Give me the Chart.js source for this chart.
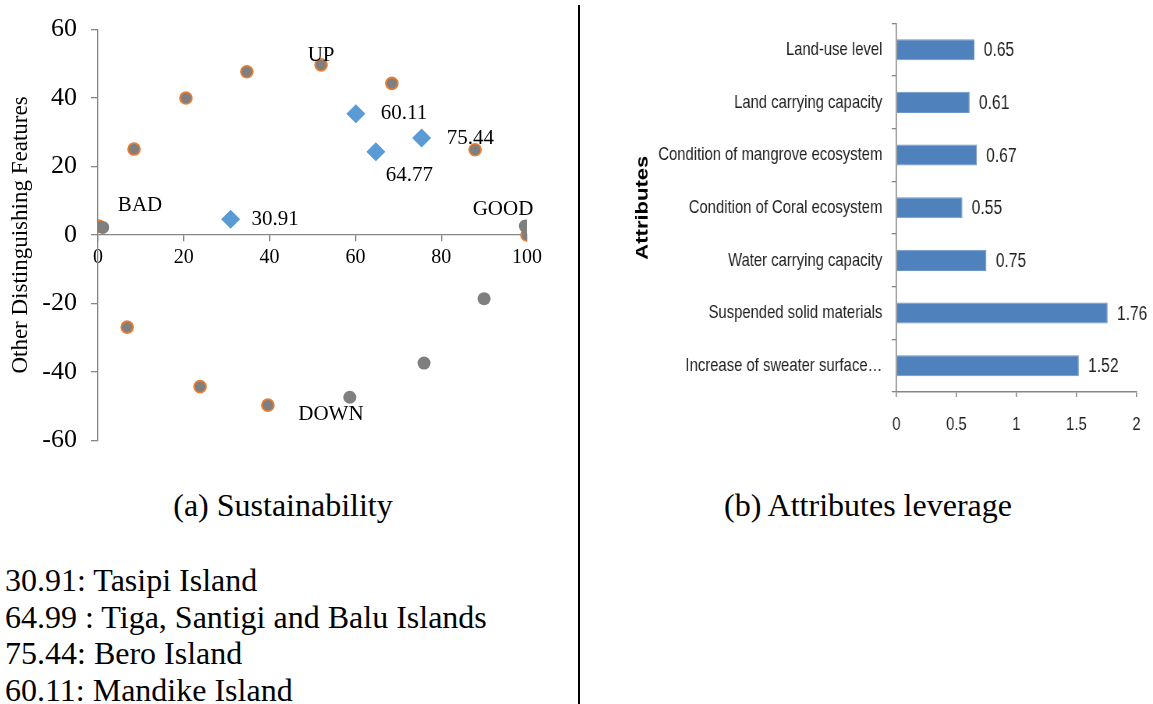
<!DOCTYPE html>
<html>
<head>
<meta charset="utf-8">
<script src="https://cdn.jsdelivr.net/npm/chart.js@4"></script>
<style>
  html, body { margin: 0; padding: 0; background: #fff; }
  body { width: 1153px; height: 704px; position: relative; overflow: hidden;
         font-family: 'Liberation Serif', 'Times New Roman', serif; color: #000; }
  #scatterCanvas { position: absolute; left: 0; top: 0; }
  /* the bar panel uses a condensed look: drawn wide, shown at 553px */
  #barCanvas { position: absolute; left: 600px; top: 0; }
  .caption { position: absolute; top: 487px; font-size: 32px; line-height: 36px;
             white-space: nowrap; transform: translateX(-50%); }
  #divider { position: absolute; left: 578px; top: 5px; width: 2px; height: 699px; background: #000; }
  #notes { position: absolute; left: 5px; top: 562px; font-size: 32px; line-height: 36.7px; white-space: nowrap; }
</style>
</head>
<body>
<canvas id="scatterCanvas" width="560" height="470"></canvas>
<canvas id="barCanvas" width="709" height="460" style="width:553px;height:460px"></canvas>
<div id="divider"></div>
<div class="caption" style="left:283px">(a) Sustainability</div>
<div class="caption" style="left:868px">(b) Attributes leverage</div>
<div id="notes"></div>

<script>
// ---- (a) Sustainability ordination ----
// reference anchors (grey with orange rim)
const refAnchorX = [0.2, 8.4, 20.5, 34.7, 52.0, 68.5, 87.9, 100, 6.8, 23.8, 39.6];
const refAnchorY = [2.6, 25.1, 40.0, 47.7, 49.7, 44.3, 24.9, 0, -26.9, -44.3, -49.7];
// plain grey anchors
const greyAnchorX = [1.1, 99.6, 58.7, 76.0, 90.0];
const greyAnchorY = [2.2, 2.6, -47.4, -37.4, -18.6];
// island sustainability scores
const islandScores = [30.91, 60.11, 64.77, 75.44];
const islandOther  = [4.6, 35.4, 24.3, 28.3];
const scatterXTicks = [0, 20, 40, 60, 80, 100];
const scatterYTicks = [-60, -40, -20, 0, 20, 40, 60];
const zoneNames = ['BAD', 'GOOD', 'UP', 'DOWN'];

// ---- (b) Attributes leverage ----
const attributes = [
  'Land-use level',
  'Land carrying capacity',
  'Condition of mangrove ecosystem',
  'Condition of Coral ecosystem',
  'Water carrying capacity',
  'Suspended solid materials',
  'Increase of sweater surface\u2026'
];
const leverage = [0.65, 0.61, 0.67, 0.55, 0.75, 1.76, 1.52];
const leverageTicks = [0, 0.5, 1, 1.5, 2];
const leverageTickLabels = ['0', '0.5', '1', '1.5', '2'];

const islandNotes = [
  '30.91: Tasipi Island',
  '64.99 : Tiga, Santigi and Balu Islands',
  '75.44: Bero Island',
  '60.11: Mandike Island'
];

document.getElementById('notes').innerHTML = islandNotes.map(t => '<div>' + t + '</div>').join('');

const serif = "'Liberation Serif', 'Times New Roman', serif";
const sans = "'Liberation Sans', Arial, sans-serif";
const axisGrey = '#868686';

const zip = (xs, ys) => xs.map((x, i) => ({ x, y: ys[i] }));

// where the zone words and value labels sit
const zonePlacement = {
  BAD:  { x: 9.8,  y: 8.6 },
  GOOD: { x: 94.4, y: 7.4 },
  UP:   { x: 52.0, y: 52.3 },
  DOWN: { x: 54.3, y: -52.3 }
};
const scoreLabelOffset = [
  { dx: 21, dy: 0 },
  { dx: 25, dy: 0 },
  { dx: 10, dy: 24 },
  { dx: 25, dy: 0 }
];

const scatterText = {
  id: 'scatterText',
  afterDatasetsDraw(chart) {
    const { ctx, scales: { x, y } } = chart;
    ctx.save();
    ctx.fillStyle = '#000';
    ctx.font = '21px ' + serif;
    ctx.textAlign = 'center';
    ctx.textBaseline = 'middle';
    zoneNames.forEach(name => {
      const p = zonePlacement[name];
      ctx.fillText(name, x.getPixelForValue(p.x), y.getPixelForValue(p.y));
    });
    ctx.textAlign = 'left';
    const meta = chart.getDatasetMeta(0);
    meta.data.forEach((pt, i) => {
      const o = scoreLabelOffset[i];
      ctx.fillText(islandScores[i].toFixed(2), pt.x + o.dx, pt.y + o.dy);
    });
    ctx.restore();
  }
};

new Chart(document.getElementById('scatterCanvas'), {
  type: 'scatter',
  data: {
    datasets: [
      {
        label: 'Islands',
        data: zip(islandScores, islandOther),
        pointStyle: 'rectRot',
        pointRadius: 9.5,
        backgroundColor: '#5B9BD5',
        borderColor: '#5B9BD5',
        borderWidth: 0
      },
      {
        label: 'Anchors',
        data: zip(greyAnchorX, greyAnchorY),
        pointRadius: 6.5,
        backgroundColor: '#7F7F7F',
        borderColor: '#7F7F7F',
        borderWidth: 0
      },
      {
        label: 'Reference',
        data: zip(refAnchorX, refAnchorY),
        pointRadius: 6,
        backgroundColor: '#7F7F7F',
        borderColor: '#ED7D31',
        borderWidth: 1.6
      }
    ]
  },
  options: {
    responsive: false,
    animation: false,
    devicePixelRatio: 1,
    layout: { padding: { left: 0, top: 23, right: 33, bottom: 27 } },
    plugins: { legend: { display: false }, tooltip: { enabled: false } },
    scales: {
      x: {
        type: 'linear',
        position: { y: 0 },
        min: 0, max: 100,
        afterBuildTicks: s => { s.ticks = scatterXTicks.map(v => ({ value: v })); },
        border: { display: true, color: axisGrey, width: 1.3 },
        grid: { display: true, drawOnChartArea: false, drawTicks: true, tickLength: 6, color: axisGrey, lineWidth: 1.3 },
        ticks: { color: '#000', font: { family: serif, size: 20 }, padding: 5, maxRotation: 0 }
      },
      y: {
        type: 'linear',
        position: 'left',
        min: -60, max: 60,
        afterBuildTicks: s => { s.ticks = scatterYTicks.map(v => ({ value: v })); },
        afterFit: s => { s.width = 98; },
        border: { display: true, color: axisGrey, width: 1.3 },
        grid: { display: true, drawOnChartArea: false, drawTicks: true, tickLength: 7, color: axisGrey, lineWidth: 1.3 },
        ticks: { color: '#000', font: { family: serif, size: 26 }, padding: 14 },
        title: {
          display: true,
          text: 'Other Distinguishing Features',
          color: '#000',
          font: { family: serif, size: 23 },
          padding: { top: 7, bottom: 0 }
        }
      }
    }
  },
  plugins: [scatterText]
});

// ---- bar chart (canvas is 709 wide, displayed at 553: x factor 0.78) ----
const barText = {
  id: 'barText',
  afterDatasetsDraw(chart) {
    const { ctx, chartArea } = chart;
    ctx.save();
    ctx.fillStyle = '#1f1f1f';
    ctx.font = '20px ' + sans;
    ctx.textAlign = 'left';
    ctx.textBaseline = 'middle';
    chart.getDatasetMeta(0).data.forEach((bar, i) => {
      ctx.fillText(leverage[i].toFixed(2), bar.x + 12, bar.y + 1);
    });
    // vertical axis caption
    ctx.translate(55, (chartArea.top + chartArea.bottom) / 2);
    ctx.rotate(-Math.PI / 2);
    ctx.fillStyle = '#000';
    ctx.font = 'bold 22px ' + sans;
    ctx.textAlign = 'center';
    ctx.fillText('Attributes', 0, 0);
    ctx.restore();
  }
};

new Chart(document.getElementById('barCanvas'), {
  type: 'bar',
  data: {
    labels: attributes,
    datasets: [{
      label: 'Leverage',
      data: leverage,
      backgroundColor: '#4F81BD',
      borderColor: '#6A95C8',
      borderWidth: 1,
      barPercentage: 0.4,
      categoryPercentage: 1
    }]
  },
  options: {
    indexAxis: 'y',
    responsive: false,
    animation: false,
    devicePixelRatio: 1,
    layout: { padding: { left: 0, top: 20, right: 19, bottom: 28 } },
    plugins: { legend: { display: false }, tooltip: { enabled: false } },
    scales: {
      x: {
        type: 'linear',
        min: 0, max: 2,
        afterBuildTicks: s => { s.ticks = leverageTicks.map(v => ({ value: v })); },
        afterFit: s => { s.height = 40; },
        border: { display: true, color: axisGrey, width: 1.6 },
        grid: { display: true, drawOnChartArea: false, drawTicks: true, tickLength: 5, color: axisGrey, lineWidth: 1.6 },
        ticks: {
          color: '#1f1f1f', font: { family: sans, size: 19 }, padding: 16, maxRotation: 0,
          callback: (v, i) => leverageTickLabels[i]
        }
      },
      y: {
        type: 'category',
        afterFit: s => { s.width = 380; },
        border: { display: true, color: axisGrey, width: 1.6 },
        grid: { display: true, offset: true, drawOnChartArea: false, drawTicks: true, tickLength: 6, color: axisGrey, lineWidth: 1.3 },
        ticks: { color: '#1f1f1f', font: { family: sans, size: 19 }, padding: 12, autoSkip: false }
      }
    }
  },
  plugins: [barText]
});
</script>
</body>
</html>
